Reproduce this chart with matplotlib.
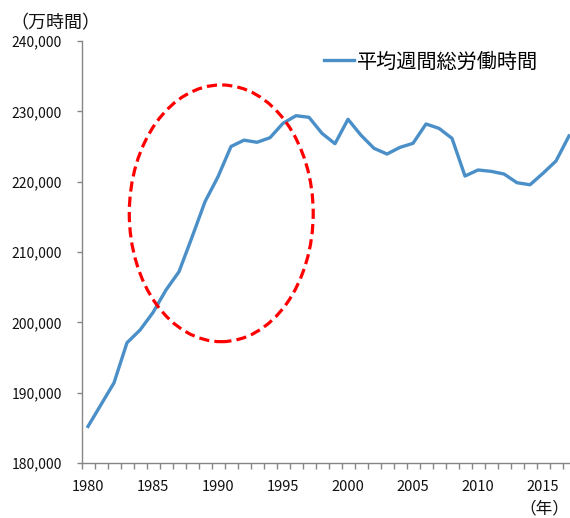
import matplotlib
matplotlib.use("Agg")
import matplotlib.pyplot as plt
from matplotlib.patches import Ellipse
from matplotlib.ticker import FuncFormatter

plt.rcParams['font.family'] = ['Noto Sans CJK JP', 'DejaVu Sans']

# Data: average weekly total working hours (10k hours)
years = list(range(1980, 2018))
hours = [185200, 188300, 191400, 197100, 198900, 201400, 204600, 207200,
         212100, 217150, 220700, 225000, 225900, 225600, 226250, 228300,
         229380, 229150, 226870, 225400, 228870, 226600, 224740, 223930,
         224880, 225450, 228200, 227580, 226160, 220800, 221660, 221470,
         221090, 219850, 219560, 221190, 222940, 226500]
series_name = '平均週間総労働時間'
y_ticks = [180000, 190000, 200000, 210000, 220000, 230000, 240000]
x_labels = [1980, 1985, 1990, 1995, 2000, 2005, 2010, 2015]

# highlight ellipse (centre year, centre value, width in years, height in value)
ell_x, ell_y, ell_w, ell_h = 1990.25, 215500, 14.15, 36500

fig = plt.figure(figsize=(5.70, 5.18), dpi=100)
# the category axis runs a little past the right edge of the image
ax = fig.add_axes([81.5 / 570, 1 - 463 / 518, (575.5 - 81.5) / 570, (463 - 41) / 518])

ax.plot(years, hours, color='#4A8FC8', lw=2.4, label=series_name,
        solid_joinstyle='round', zorder=3)

ax.add_patch(Ellipse((ell_x, ell_y), ell_w, ell_h, fill=False,
                     edgecolor='#FF0000', lw=2.3, linestyle=(0, (3.2, 1.6)),
                     zorder=4))

ax.set_xlim(1979.5, 2017.5)
ax.set_ylim(180000, 240000)
ax.set_yticks(y_ticks)
ax.yaxis.set_major_formatter(FuncFormatter(lambda v, p: f'{int(v):,}'))

# year labels without marks, category boundary ticks as minor
ax.set_xticks(x_labels)
ax.tick_params(axis='x', which='major', length=0, pad=12, labelsize=10.5)
ax.set_xticks([y - 0.5 for y in years] + [years[-1] + 0.5], minor=True)
ax.tick_params(axis='x', which='minor', length=4.3, color='#868686', width=1)
ax.tick_params(axis='y', length=3.6, color='#868686', width=1, pad=10.4,
               labelsize=10)
ax.tick_params(labelcolor='#111111')

for s in ['top', 'right']:
    ax.spines[s].set_visible(False)
for s in ['left', 'bottom']:
    ax.spines[s].set_color('#868686')
    ax.spines[s].set_linewidth(1)

leg = ax.legend(loc='center left', bbox_to_anchor=(0.471, 1 - 21 / 422), frameon=False,
                handlelength=1.5, handletextpad=0.12, borderpad=0,
                prop={'size': 14.5})

fig.text(10 / 570, 1 - 23 / 518, '（万時間）', fontsize=13, va='center', ha='left',
         color='#111111')
fig.text(569 / 570, 1 - 509 / 518, '（年）', fontsize=12, va='center', ha='right',
         color='#111111')

fig.savefig('out.png', dpi=100)
